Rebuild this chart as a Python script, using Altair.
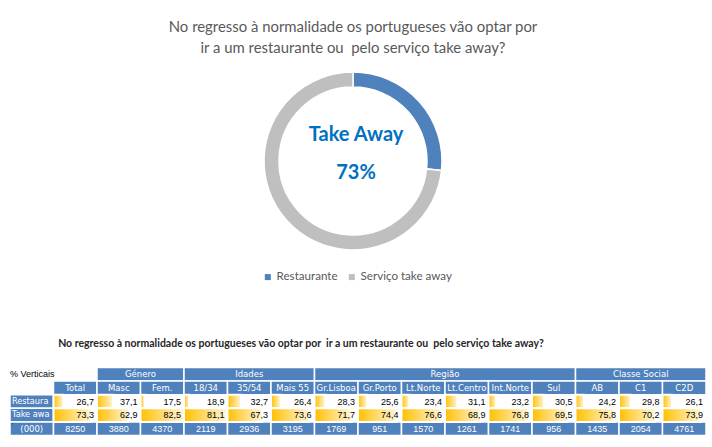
import altair as alt
import pandas as pd

# ---------------- data ----------------
title_lines = ["No regresso à normalidade os portugueses vão optar por",
               "ir a um restaurante ou\u00a0 pelo serviço take away?"]
pie_categories = ["Restaurante", "Serviço take away"]
pie_values = [26.7, 73.3]
center_label = "Take Away"
center_value = "73%"

table_title = ("No regresso à normalidade os portugueses vão optar por\u00a0 "
               "ir a um restaurante ou\u00a0 pelo serviço take away?")
corner_label = "% Verticais"
group_names = ["Género", "Idades", "Região", "Classe Social"]
group_first = [1, 3, 6, 12]    # first data column (0-based) of each group
group_last = [2, 5, 11, 14]    # last data column (0-based) of each group
column_names = ["Total", "Masc", "Fem.", "18/34", "35/54", "Mais 55", "Gr.Lisboa",
                "Gr.Porto", "Lt.Norte", "Lt.Centro", "Int.Norte", "Sul", "AB", "C1", "C2D"]
row_names = ["Restaurante", "Take away", "(000)"]
restaurante = [26.7, 37.1, 17.5, 18.9, 32.7, 26.4, 28.3, 25.6, 23.4, 31.1, 23.2, 30.5, 24.2, 29.8, 26.1]
take_away = [73.3, 62.9, 82.5, 81.1, 67.3, 73.6, 71.7, 74.4, 76.6, 68.9, 76.8, 69.5, 75.8, 70.2, 73.9]
base_000 = [8250, 3880, 4370, 2119, 2936, 3195, 1769, 951, 1570, 1261, 1741, 956, 1435, 2054, 4761]

# ---------------- layout / style ----------------
W, H = 712, 447
TABLE_LEFT, COL_W = 10, 43.5
TABLE_TOP, ROW_H = 367.5, 13.6
BLUE = "#4F81BD"
GREY_TXT = "#595959"
HDR_FONT = "DejaVu Sans"
NUM_FONT = "Liberation Sans Narrow, Arial Narrow, Liberation Sans"

xs = alt.Scale(domain=[-TABLE_LEFT / COL_W, (W - TABLE_LEFT) / COL_W], nice=False, zero=False)
ys = alt.Scale(domain=[(H - TABLE_TOP) / ROW_H, -TABLE_TOP / ROW_H], nice=False, zero=False)

def fmt(v):
    return f"{v:.1f}".replace(".", ",")

# ---------------- donut ----------------
pie_df = pd.DataFrame({"cat": pie_categories, "v": pie_values, "idx": range(len(pie_values))})
donut = alt.Chart(pie_df).mark_arc(innerRadius=74, outerRadius=89, stroke="white", strokeWidth=1.5).encode(
    theta=alt.Theta("v:Q", stack=True),
    order=alt.Order("idx:Q"),
    color=alt.Color("cat:N",
                    scale=alt.Scale(domain=pie_categories, range=[BLUE, "#BFBFBF"]),
                    legend=alt.Legend(orient="none", legendX=262, legendY=271, direction="horizontal",
                                      title=None, symbolType="square", symbolSize=36,
                                      symbolStrokeWidth=0, labelFontSize=11.6, labelColor=GREY_TXT,
                                      labelFont="Lato", columnPadding=8, labelOffset=3)),
    x=alt.value(353), y=alt.value(161),
)

blank = pd.DataFrame({"a": [0]})
title1 = alt.Chart(blank).mark_text(text=title_lines[0], font="Lato", fontSize=14.9, color=GREY_TXT,
                                    align="center", baseline="alphabetic").encode(x=alt.value(353), y=alt.value(32))
title2 = alt.Chart(blank).mark_text(text=title_lines[1], font="Lato", fontSize=14.9, color=GREY_TXT,
                                    align="center", baseline="alphabetic").encode(x=alt.value(353), y=alt.value(52.5))
c_label = alt.Chart(blank).mark_text(text=center_label, font="Lato", fontWeight="bold", fontSize=20,
                                     color="#0070C0", align="center", baseline="middle").encode(
    x=alt.value(356), y=alt.value(134.5))
c_value = alt.Chart(blank).mark_text(text=center_value, font="Lato", fontWeight="bold", fontSize=20,
                                     color="#0070C0", align="center", baseline="middle").encode(
    x=alt.value(356), y=alt.value(173))
t_title = alt.Chart(blank).mark_text(text=table_title, font="Lato", fontWeight="bold", fontSize=10.5,
                                     color="#262626", align="center", baseline="middle").encode(
    x=alt.value(301), y=alt.value(344))

# ---------------- table ----------------
blue_cells = []
for gf, gl in zip(group_first, group_last):
    blue_cells.append({"x0": gf + 1, "x1": gl + 2, "r": 0})
for i in range(len(column_names)):
    blue_cells.append({"x0": i + 1, "x1": i + 2, "r": 1})
blue_cells.append({"x0": 0, "x1": 1, "r": 2})
blue_cells.append({"x0": 0, "x1": 1, "r": 3})
for i in range(len(column_names) + 1):
    blue_cells.append({"x0": i, "x1": i + 1, "r": 4})
blue_df = pd.DataFrame(blue_cells)

cells = alt.Chart(blue_df).mark_rect(color=BLUE, stroke="white", strokeWidth=1.5).transform_calculate(
    r2="datum.r + 1").encode(
    x=alt.X("x0:Q", scale=xs, axis=None), x2="x1:Q",
    y=alt.Y("r:Q", scale=ys, axis=None), y2="r2:Q")

# Excel error-indicator triangle in the "(000)" cell
flag = alt.Chart(pd.DataFrame({"c": [0], "r": [4]})).mark_point(
    shape="M0,0L1,0L0,1Z", size=22, filled=True, color="#2E7D32", opacity=1, xOffset=1.5, yOffset=1).encode(
    x=alt.X("c:Q", scale=xs, axis=None), y=alt.Y("r:Q", scale=ys, axis=None))

# data bars
allv = restaurante + take_away
vmin, vmax = min(allv), max(allv)
bar_rows = []
for r, vals in ((2, restaurante), (3, take_away)):
    for i, v in enumerate(vals):
        bar_rows.append({"c": i + 1, "r": r, "v": v})
bar_df = pd.DataFrame(bar_rows)
grad = alt.Gradient(gradient="linear",
                    stops=[alt.GradientStop(color="#FFC000", offset=0),
                           alt.GradientStop(color="#FFF6DA", offset=1)],
                    x1=0, x2=1, y1=0, y2=0)
bars = alt.Chart(bar_df).mark_rect(color=grad, stroke="white", strokeWidth=2).transform_calculate(
    xe=f"datum.c + 0.1 + 0.9 * (datum.v - {vmin}) / ({vmax} - {vmin})",
    r2="datum.r + 1").encode(
    x=alt.X("c:Q", scale=xs, axis=None), x2="xe:Q",
    y=alt.Y("r:Q", scale=ys, axis=None), y2="r2:Q")

# centred white header texts
hdr_rows = []
for name, gf, gl in zip(group_names, group_first, group_last):
    hdr_rows.append({"t": name, "xc": (gf + 1 + gl + 2) / 2, "yc": 0.5})
for i, name in enumerate(column_names):
    hdr_rows.append({"t": name, "xc": i + 1.5, "yc": 1.5})
hdr_rows.append({"t": row_names[2], "xc": 0.5, "yc": 4.5})
hdr_df = pd.DataFrame(hdr_rows)
hdr_text = alt.Chart(hdr_df).mark_text(font=HDR_FONT, fontSize=8.5, color="white",
                                       align="center", baseline="middle").encode(
    x=alt.X("xc:Q", scale=xs, axis=None), y=alt.Y("yc:Q", scale=ys, axis=None), text="t:N")

base_df = pd.DataFrame({"t": [str(b) for b in base_000],
                        "xc": [i + 1.5 for i in range(len(base_000))], "yc": 4.5})
base_text = alt.Chart(base_df).mark_text(font=NUM_FONT, fontSize=9, color="white",
                                         align="center", baseline="middle").encode(
    x=alt.X("xc:Q", scale=xs, axis=None), y=alt.Y("yc:Q", scale=ys, axis=None), text="t:N")

corner_df = pd.DataFrame({"t": [corner_label], "xc": [0], "yc": [0.5]})
corner_text = alt.Chart(corner_df).mark_text(font="Liberation Sans", fontSize=9, color="black",
                                             align="left", baseline="middle").encode(
    x=alt.X("xc:Q", scale=xs, axis=None), y=alt.Y("yc:Q", scale=ys, axis=None), text="t:N")

rl_df = pd.DataFrame({"t": row_names[:2], "xc": [0, 0], "yc": [2.5, 3.5]})
rl_text = alt.Chart(rl_df).mark_text(font=HDR_FONT, fontSize=8.2, color="white", align="left",
                                     baseline="middle", dx=2, limit=41, ellipsis="\u200b").encode(
    x=alt.X("xc:Q", scale=xs, axis=None), y=alt.Y("yc:Q", scale=ys, axis=None), text="t:N")

val_df = pd.DataFrame({"t": [fmt(v) for v in restaurante] + [fmt(v) for v in take_away],
                       "xc": [i + 2 for i in range(len(restaurante))] * 2,
                       "yc": [2.5] * len(restaurante) + [3.5] * len(take_away)})
val_text = alt.Chart(val_df).mark_text(font=NUM_FONT, fontSize=9, color="black", align="right",
                                       baseline="middle", dx=-3).encode(
    x=alt.X("xc:Q", scale=xs, axis=None), y=alt.Y("yc:Q", scale=ys, axis=None), text="t:N")

chart = alt.layer(
    cells, bars, flag, hdr_text, base_text, corner_text, rl_text, val_text,
    donut, title1, title2, c_label, c_value, t_title,
).properties(
    width=W, height=H, autosize=alt.AutoSizeParams(type="none"), padding=0, background="white"
).configure_view(stroke=None)

chart.save("out.html", embed_options={"renderer": "svg", "actions": False})
